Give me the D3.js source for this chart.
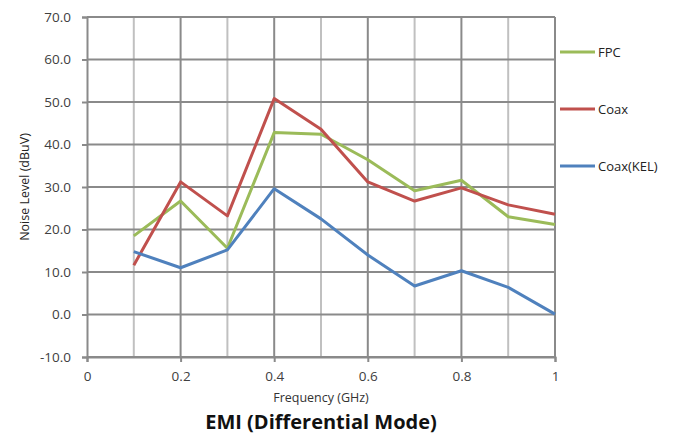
<!DOCTYPE html>
<html><head><meta charset="utf-8">
<script src="https://cdn.jsdelivr.net/npm/d3@7"></script>
<style>body{margin:0;background:#fff;} text{font-family:"Open Sans",sans-serif;}</style>
</head><body>
<svg id="chart" width="676" height="434"></svg>
<script>
const freqs = [0.1,0.2,0.3,0.4,0.5,0.6,0.7,0.8,0.9,1.0];
const fpc = [18.5,26.7,15.6,42.8,42.4,36.4,29.1,31.6,23.0,21.2];
const coax = [11.6,31.2,23.2,50.8,43.6,31.2,26.7,29.8,25.8,23.6];
const coaxKel = [14.8,11.0,15.2,29.6,22.5,14.0,6.7,10.3,6.4,0.1];
const seriesNames = ["FPC","Coax","Coax(KEL)"];
const seriesColors = ["#9BBB59","#C0504D","#4F81BD"];
const xTicks = [0,0.2,0.4,0.6,0.8,1];
const yTicks = [-10,0,10,20,30,40,50,60,70];
const minorX = [0.1,0.3,0.5,0.7,0.9];

const svg = d3.select("#chart");
const L=87, R=555, T=17, B=357;
const x = d3.scaleLinear().domain([0,1]).range([L,R]);
const y = d3.scaleLinear().domain([-10,70]).range([B,T]);

const g = svg.append("g");
g.selectAll("line.minor").data(minorX).enter().append("line")
 .attr("x1",d=>x(d)).attr("x2",d=>x(d)).attr("y1",T).attr("y2",B)
 .attr("stroke","#C0C0C0").attr("stroke-width",2);
g.selectAll("line.majx").data(xTicks.slice(1)).enter().append("line")
 .attr("x1",d=>x(d)).attr("x2",d=>x(d)).attr("y1",T).attr("y2",B)
 .attr("stroke","#8A8A8A").attr("stroke-width",2);
g.selectAll("line.majy").data(yTicks).enter().append("line")
 .attr("x1",L).attr("x2",R).attr("y1",d=>y(d)).attr("y2",d=>y(d))
 .attr("stroke","#8A8A8A").attr("stroke-width",2);

const fmtY = d => d3.format(".1f")(d).replace("\u2212","-");
const yAxis = d3.axisLeft(y).tickValues(yTicks).tickFormat(fmtY).tickSize(5).tickPadding(11);
const ya = svg.append("g").attr("transform",`translate(${L},0)`).call(yAxis);
const xAxis = d3.axisBottom(x).tickValues(xTicks).tickFormat(d=>d===0?"0":d===1?"1":d3.format(".1f")(d)).tickSize(5).tickPadding(9);
const xa = svg.append("g").attr("transform",`translate(0,${B})`).call(xAxis);
[ya,xa].forEach(a=>{
  a.select(".domain").attr("stroke","#8A8A8A").attr("stroke-width",2);
  a.selectAll(".tick line").attr("stroke","#8A8A8A").attr("stroke-width",2);
  a.selectAll(".tick text").attr("fill","#404040").style("font-size","13.5px").style("font-family","'Open Sans',sans-serif");
});

const allSeries = [fpc,coax,coaxKel];
const line = d3.line().x((d,i)=>x(freqs[i])).y(d=>y(d));
allSeries.forEach((s,k)=>{
  svg.append("path").datum(s).attr("d",line).attr("fill","none")
   .attr("stroke",seriesColors[k]).attr("stroke-width",3).attr("stroke-linejoin","round");
});

const legY = [52,109,166];
seriesNames.forEach((n,k)=>{
  svg.append("line").attr("x1",560).attr("x2",595).attr("y1",legY[k]).attr("y2",legY[k])
   .attr("stroke",seriesColors[k]).attr("stroke-width",3);
  svg.append("text").attr("x",598).attr("y",legY[k]).attr("dy","0.35em")
   .attr("fill","#222").style("font-size","13px").text(n);
});

svg.append("text").attr("x",(L+R)/2).attr("y",402).attr("text-anchor","middle")
 .attr("fill","#333").style("font-size","12.5px").text("Frequency (GHz)");
svg.append("text").attr("transform",`translate(29,${(T+B)/2}) rotate(-90)`).attr("text-anchor","middle")
 .attr("fill","#222").style("font-size","12.5px").text("Noise Level (dBuV)");
svg.append("text").attr("x",(L+R)/2).attr("y",429).attr("text-anchor","middle")
 .attr("fill","#111").style("font-size","20px").style("font-weight","bold").text("EMI (Differential Mode)");
</script>
</body></html>
